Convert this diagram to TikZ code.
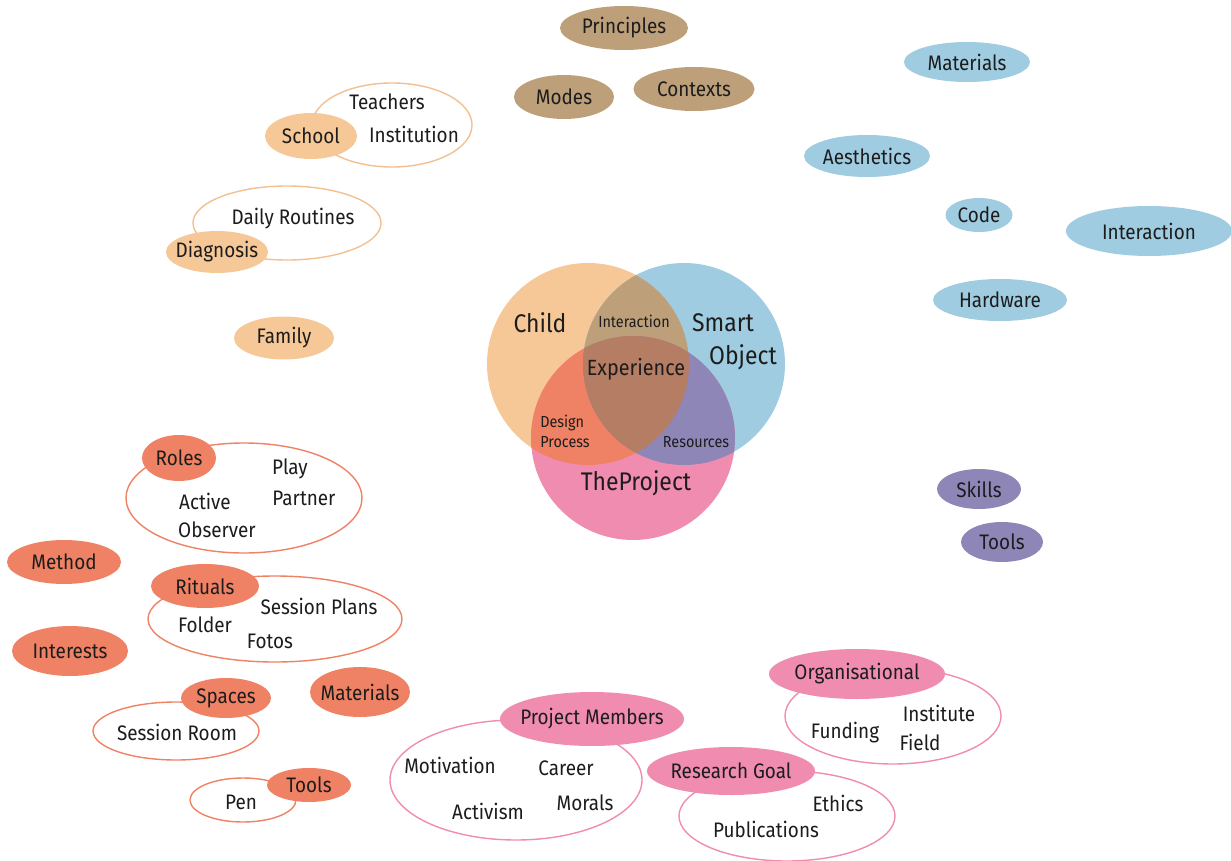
\documentclass[tikz,border=0pt]{standalone}
\usepackage{fontspec}
\setmainfont[FakeStretch=0.9]{Fira Sans}
\usetikzlibrary{shapes.geometric}
\definecolor{peach}{RGB}{246,200,152}
\definecolor{peachline}{RGB}{242,192,145}
\definecolor{sky}{RGB}{160,204,225}
\definecolor{rose}{RGB}{240,140,176}
\definecolor{tan}{RGB}{189,160,122}
\definecolor{salmon}{RGB}{239,130,100}
\definecolor{lilac}{RGB}{142,134,183}
\definecolor{core}{RGB}{180,125,100}
\definecolor{txt}{RGB}{28,28,28}
\newcommand\zw[1]{\makebox[0pt]{#1}}
\tikzset{
  blob/.style={ellipse, inner sep=0pt, font=\fontsize{21}{23}\selectfont, text=txt},
  ring/.style={ellipse, draw, line width=1.4pt, fill=white, inner sep=0pt},
  lbl/.style={inner sep=0pt, font=\fontsize{21}{23}\selectfont, text=txt},
  big/.style={inner sep=0pt, font=\fontsize{25.5}{27}\selectfont, text=txt},
  small/.style={inner sep=0pt, font=\fontsize{16}{18}\selectfont, text=txt, align=left},
  venn/.style={circle, inner sep=0pt, minimum size=#1}
}
\begin{document}
\begin{tikzpicture}[x=1pt,y=-1pt]
\useasboundingbox (0,0) rectangle (1231,861);

% ---------- Venn ----------
\node[venn=202pt, fill=peach] (child) at (588,364) {};
\node[venn=202pt, fill=sky] (smart) at (684,364) {};
\node[venn=204pt, fill=rose] (proj) at (633,438) {};
\begin{scope}
  \clip (588,364) circle (101);
  \fill[tan] (684,364) circle (101);
  \fill[salmon] (633,438) circle (102);
\end{scope}
\begin{scope}
  \clip (684,364) circle (101);
  \fill[lilac] (633,438) circle (102);
  \clip (588,364) circle (101);
  \fill[core] (633,438) circle (102);
\end{scope}
\node[big] (tchild) at (540,323) {Child};
\node[big] (tsmart) at (723,323) {Smart};
\node[big] (tobj) at (743,357) {Object};
\node[big] (tproj) at (636,483) {TheProject};
\node[lbl, font=\fontsize{22}{24}\selectfont] (texp) at (636,369) {Experience};
\node[small] (tint) at (634,321) {Interaction};
\node[small, font=\fontsize{16}{20}\selectfont] (tdes) at (565,431) {Design\\Process};
\node[small, font=\fontsize{16}{18}\selectfont] (tres) at (696,442) {Resources};

% ---------- Brown ----------
\node[blob, fill=tan, minimum width=128pt, minimum height=44pt] (principles) at (624,28) {\zw{Principles}};
\node[blob, fill=tan, minimum width=100pt, minimum height=44pt] (modes) at (564,97) {\zw{Modes}};
\node[blob, fill=tan, minimum width=121pt, minimum height=44pt] (contexts) at (694,89) {\zw{Contexts}};

% ---------- Blue ----------
\node[blob, fill=sky, minimum width=126pt, minimum height=40pt] (bmat) at (967,62) {\zw{Materials}};
\node[blob, fill=sky, minimum width=126pt, minimum height=42pt] (aest) at (867,156) {\zw{Aesthetics}};
\node[blob, fill=sky, minimum width=67pt, minimum height=34pt] (code) at (979,215) {\zw{Code}};
\node[blob, fill=sky, minimum width=166pt, minimum height=50pt] (binter) at (1149,231) {\zw{Interaction}};
\node[blob, fill=sky, minimum width=134pt, minimum height=42pt] (hard) at (1000,300) {\zw{Hardware}};

% ---------- Purple ----------
\node[blob, fill=lilac, minimum width=84pt, minimum height=40pt] (skills) at (979,489) {\zw{Skills}};
\node[blob, fill=lilac, minimum width=82pt, minimum height=40pt] (ptools) at (1002,542) {\zw{Tools}};

% ---------- Peach (Child) ----------
\node[ring, draw=peachline, minimum width=160pt, minimum height=84pt] (schoolring) at (392,125) {};
\node[lbl] (teach) at (387,102) {Teachers};
\node[lbl] (inst) at (414,134) {Institution};
\node[blob, fill=peach, minimum width=92pt, minimum height=46pt] (school) at (311,136) {\zw{School}};

\node[ring, draw=peachline, minimum width=188pt, minimum height=74pt] (dailyring) at (287,223) {};
\node[lbl] (daily) at (293,219) {Daily Routines};
\node[blob, fill=peach, minimum width=102pt, minimum height=42pt] (diag) at (217,252) {\zw{Diagnosis}};
\node[blob, fill=peach, minimum width=100pt, minimum height=43pt] (family) at (284,338) {\zw{Family}};

% ---------- Salmon ----------
\node[ring, draw=salmon, minimum width=236pt, minimum height=110pt] (rolesring) at (244,498) {};
\node[lbl] (play) at (290,469) {Play};
\node[lbl] (partner) at (304,498) {Partner};
\node[lbl] (active) at (205,501) {Active};
\node[lbl] (observer) at (217,530) {Observer};
\node[blob, fill=salmon, minimum width=74pt, minimum height=46pt] (roles) at (179,458) {\zw{Roles}};

\node[blob, fill=salmon, minimum width=114pt, minimum height=44pt] (method) at (64,562) {\zw{Method}};

\node[ring, draw=salmon, minimum width=254pt, minimum height=86pt] (ritring) at (275,619) {};
\node[lbl] (splans) at (319,606) {Session Plans};
\node[lbl] (folder) at (205,625) {Folder};
\node[lbl] (fotos) at (270,641) {Fotos};
\node[blob, fill=salmon, minimum width=108pt, minimum height=44pt] (rituals) at (205,586) {\zw{Rituals}};

\node[blob, fill=salmon, minimum width=116pt, minimum height=50pt] (interests) at (70,651) {\zw{Interests}};
\node[blob, fill=salmon, minimum width=100pt, minimum height=50pt] (smat) at (360,692) {\zw{Materials}};

\node[ring, draw=salmon, minimum width=166pt, minimum height=58pt] (spacering) at (176,731) {};
\node[lbl] (sroom) at (177,732) {Session Room};
\node[blob, fill=salmon, minimum width=90pt, minimum height=40pt] (spaces) at (226,698) {\zw{Spaces}};

\node[ring, draw=salmon, minimum width=106pt, minimum height=44pt] (penring) at (243,800) {};
\node[lbl] (pen) at (241,802) {Pen};
\node[blob, fill=salmon, minimum width=84pt, minimum height=34pt] (stools) at (309,785) {\zw{Tools}};

% ---------- Pink ----------
\node[ring, draw=rose, minimum width=252pt, minimum height=120pt] (pmring) at (516,780) {};
\node[lbl] (motiv) at (450,765) {Motivation};
\node[lbl] (career) at (566,768) {Career};
\node[lbl] (activ) at (488,811) {Activism};
\node[lbl] (morals) at (585,803) {Morals};
\node[blob, fill=rose, minimum width=184pt, minimum height=54pt] (pm) at (592,719) {\zw{Project Members}};

\node[ring, draw=rose, minimum width=216pt, minimum height=96pt] (orgring) at (893,716) {};
\node[lbl] (institute) at (939,713) {Institute};
\node[lbl] (funding) at (845,733) {Funding};
\node[lbl] (field) at (920,742) {Field};
\node[blob, fill=rose, minimum width=176pt, minimum height=50pt] (org) at (857,674) {\zw{Organisational}};

\node[ring, draw=rose, minimum width=216pt, minimum height=90pt] (rgring) at (787,816) {};
\node[lbl] (ethics) at (838,803) {Ethics};
\node[lbl] (pubs) at (766,829) {Publications};
\node[blob, fill=rose, minimum width=168pt, minimum height=48pt] (rg) at (731,771) {\zw{Research Goal}};
\end{tikzpicture}
\end{document}
